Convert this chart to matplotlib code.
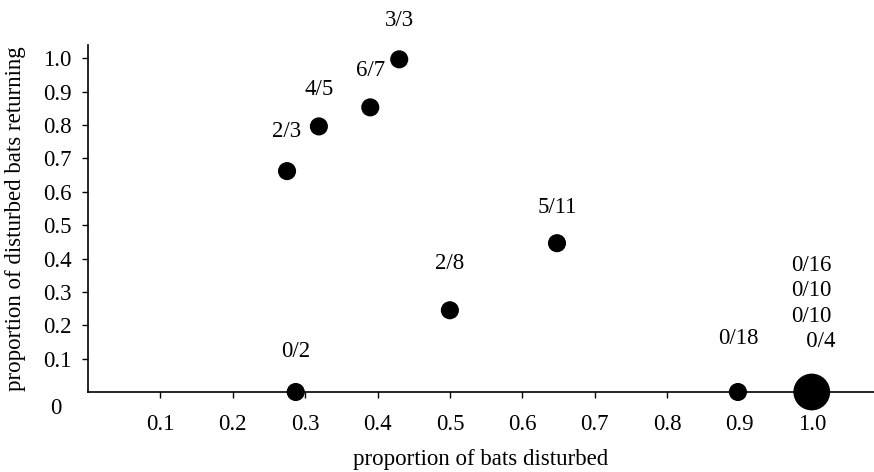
import matplotlib
matplotlib.use("Agg")
from matplotlib import pyplot as plt

plt.rcParams['font.family'] = ['Liberation Serif', 'DejaVu Serif']

# data
x_disturbed = [0.275, 0.319, 0.39, 0.43, 0.287, 0.50, 0.648, 0.898, 1.0]
y_returning = [0.662, 0.796, 0.853, 0.997, 0.0, 0.245, 0.446, 0.0, 0.0]
counts = ['2/3', '4/5', '6/7', '3/3', '0/2', '2/8', '5/11', '0/18',
          '0/16\n0/10\n0/10\n   0/4']
sizes = [170, 170, 170, 170, 170, 170, 170, 170, 700]
label_offset = [40, 37, 37, 39, 40, 47, 36, 53, 45]  # px above point

xticks = [0.1, 0.2, 0.3, 0.4, 0.5, 0.6, 0.7, 0.8, 0.9, 1.0]
yticks = [0.1, 0.2, 0.3, 0.4, 0.5, 0.6, 0.7, 0.8, 0.9, 1.0]

FS = 16.5

fig = plt.figure(figsize=(8.74, 4.72), dpi=100)
ax = fig.add_axes([0.1007, 0.1695, 0.8993, 0.7352])

ax.scatter(x_disturbed, y_returning, s=sizes, c='black', zorder=3, clip_on=False,
           linewidths=0)

for x, y, lab, off in zip(x_disturbed, y_returning, counts, label_offset):
    multi = '\n' in lab
    ax.annotate(lab, (x, y), xytext=(0, off * 0.72), textcoords='offset points',
                ha='center', va='baseline' if multi else 'center',
                fontsize=FS, linespacing=1.27)

ax.set_xlim(0, 1.086)
ax.set_ylim(0, 1.04)
ax.set_xticks(xticks)
ax.set_xticklabels([f'{t:.1f}' for t in xticks])
ax.set_yticks(yticks)
ax.set_yticklabels([f'{t:.1f}' for t in yticks])
ax.tick_params(axis='x', direction='out', length=4, width=1, pad=12, labelsize=FS)
ax.tick_params(axis='y', direction='out', length=4, width=1, pad=8, labelsize=FS)

for side in ['top', 'right']:
    ax.spines[side].set_visible(False)
for side in ['left', 'bottom']:
    ax.spines[side].set_linewidth(1.2)

ax.text(-0.045, -0.05, '0', transform=ax.transData, ha='center', va='center',
        fontsize=FS)

ax.set_xlabel('proportion of bats disturbed', fontsize=FS, labelpad=10)
ax.set_ylabel('proportion of disturbed bats returning', fontsize=FS, labelpad=12)

plt.savefig('out.png', dpi=100)
plt.close(fig)
